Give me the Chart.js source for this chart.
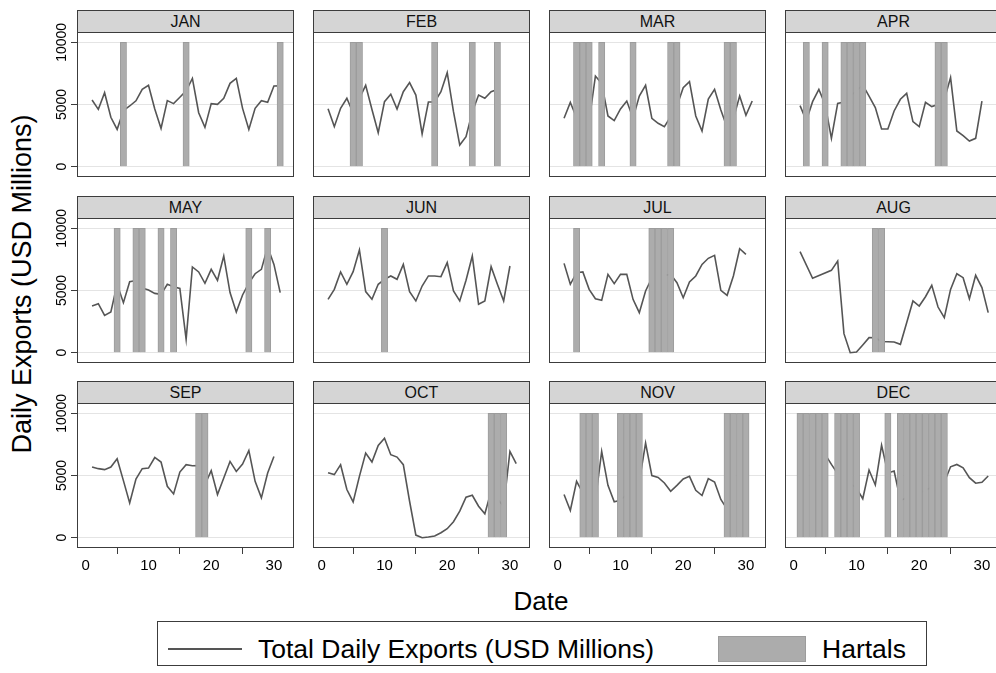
<!DOCTYPE html>
<html>
<head>
<meta charset="utf-8">
<script src="https://cdn.jsdelivr.net/npm/chart.js@4/dist/chart.umd.min.js"></script>
<style>
  html, body { margin: 0; padding: 0; overflow: hidden; background: #fff; }
  #page { position: relative; width: 1010px; height: 673px; font-family: "Liberation Sans", Arial, sans-serif; color: #000; }
  .strip { position: absolute; box-sizing: border-box; border: 1px solid #3c3c3c; background: #d5d5d5;
           font-size: 16px; text-align: center; color: #111; }
  canvas { position: absolute; }
  #ytitle { position: absolute; left: 22px; top: 284px; transform: translate(-50%, -50%) rotate(-90deg);
            white-space: nowrap; font-size: 27px; }
  #xtitle { position: absolute; left: 541px; top: 601px; transform: translate(-50%, -50%); font-size: 26px; }
  #legend { position: absolute; left: 157px; top: 621px; width: 770px; height: 45px; box-sizing: border-box;
            border: 1px solid #3c3c3c; background: #fff; font-size: 26.5px; }
  #legend .lineKey { position: absolute; left: 10px; top: 26px; width: 74px; height: 0; border-top: 2px solid #555; }
  #legend .barKey { position: absolute; left: 560px; top: 14px; width: 88px; height: 26px; box-sizing: border-box;
                    background: #acacac; border: 1px solid #9c9c9c; }
  #legend .txt { position: absolute; top: 27px; transform: translateY(-50%); white-space: nowrap; }
</style>
</head>
<body>
<div id="page">
  <div id="ytitle">Daily Exports (USD Millions)</div>
  <div id="xtitle">Date</div>
  <div id="legend">
    <div class="lineKey"></div>
    <div class="txt" style="left:100px">Total Daily Exports (USD Millions)</div>
    <div class="barKey"></div>
    <div class="txt" style="left:664px">Hartals</div>
  </div>
</div>
<script>
// Daily exports (USD millions) by day of month; null = no reading
const exportsJan = [5360, 4610, 5950, 3970, 3000, 4500, 4880, 5300, 6220, 6540, 4640, 3080, 5310, 5070, 5580, 6100, 7100, 4340, 3160, 5070, 5010, 5500, 6700, 7100, 4690, 3000, 4690, 5310, 5170, 6490, 6500];
const exportsFeb = [4660, 3220, 4690, 5500, 4300, 5500, 6540, 4600, 2730, 5230, 5820, 4640, 6030, 6760, 5760, 2630, 5200, 5200, 6030, 7560, 4420, 1740, 2410, 4400, 5760, 5500, 6030, 6200];
const exportsMar = [3890, 5170, 3940, null, 3670, 7290, 6700, 4080, 3700, 4640, 5280, 3900, 5680, 6540, 3890, 3490, 3220, 4020, 4880, 6350, 6840, 4080, 2870, 5440, 6220, 4560, 3140, 3860, 5680, 4130, 5280];
const exportsApr = [4910, 3700, 5230, 6220, 5000, 2280, 5090, 5200, null, null, 6570, 5680, 4750, 3030, 3030, 4480, 5420, 5900, 3620, 3220, 5170, 4830, 5000, 5400, 7160, 2870, 2490, 2060, 2280, 5280];
const exportsMay = [3750, 3940, 3000, 3270, 5500, 4020, 5710, 5800, 5200, 5040, 4770, 4690, 5500, 5300, 5170, 1070, 6890, 6490, 5580, 6700, 5820, 7770, 4830, 3270, 4640, 5600, 6350, 6700, 8500, 7100, 4830];
const exportsJun = [4290, 5090, 6490, 5500, 6510, 8260, 4910, 4290, 5500, 5900, 6170, 5900, 7100, 4910, 4160, 5360, 6170, 6170, 6110, 7240, 4960, 4160, 5820, 7770, 3890, 4160, 6920, 5500, 4160, 6970];
const exportsJul = [7180, 5500, 6430, 6490, 5090, 4340, 4210, 6300, 5550, 6300, 6300, 4290, 3220, 4960, 6000, null, null, 6300, 5630, 4420, 5680, 6170, 7100, 7590, 7830, 5010, 4610, 6170, 8360, 7910, null];
const exportsAug = [8120, null, 5980, null, null, 6620, 7370, 1530, 0, 50, 620, 1210, 1200, 900, 880, 860, 670, 2410, 4160, 3750, 4500, 5420, 3670, 2820, 5090, 6350, 6030, 4340, 6220, 5230, 3220];
const exportsSep = [5680, 5550, 5470, 5680, 6350, 4590, 2800, 4720, 5550, 5600, 6450, 6080, 4130, 3520, 5280, 5870, 5790, 5800, 4270, 5390, 3470, 4800, 6130, 5330, 5920, 7010, 4530, 3200, 5200, 6530];
const exportsOct = [5230, 5070, 5870, 3870, 2880, 4930, 6800, 6080, 7410, 8000, 6670, 6480, 5870, 2930, 210, 0, 50, 130, 400, 720, 1280, 2130, 3250, 3410, 2530, 1920, 3730, null, 2500, 6930, 5950];
const exportsNov = [3470, 2190, 4530, 3600, null, 2990, 6930, 4210, 2880, 3000, null, null, 4500, 7600, 4990, 4850, 4400, 3730, 4210, 4720, 4930, 3810, 3390, 4750, 4480, 3070, 2300, null, null, null];
const exportsDec = [null, null, null, null, 6700, 5890, 5150, null, null, 3980, 3130, 5440, 4240, 7430, 5200, 5360, 3000, null, null, null, null, null, null, 4460, 5700, 5890, 5620, 4830, 4380, 4460, 4960];

// Hartal (general strike) days in each month
const hartalsJan = [6, 16, 31];
const hartalsFeb = [5, 6, 18, 24, 28];
const hartalsMar = [3, 4, 5, 7, 12, 18, 19, 27, 28];
const hartalsApr = [2, 5, 8, 9, 10, 11, 23, 24];
const hartalsMay = [5, 8, 9, 12, 14, 26, 29];
const hartalsJun = [10];
const hartalsJul = [3, 15, 16, 17, 18];
const hartalsAug = [13, 14];
const hartalsSep = [18, 19];
const hartalsOct = [27, 28, 29];
const hartalsNov = [4, 5, 6, 10, 11, 12, 13, 27, 28, 29, 30];
const hartalsDec = [1, 2, 3, 4, 5, 7, 8, 9, 10, 15, 17, 18, 19, 20, 21, 22, 23, 24];

const monthNames = ['JAN', 'FEB', 'MAR', 'APR', 'MAY', 'JUN', 'JUL', 'AUG', 'SEP', 'OCT', 'NOV', 'DEC'];
const monthExports = [exportsJan, exportsFeb, exportsMar, exportsApr, exportsMay, exportsJun,
                      exportsJul, exportsAug, exportsSep, exportsOct, exportsNov, exportsDec];
const monthHartals = [hartalsJan, hartalsFeb, hartalsMar, hartalsApr, hartalsMay, hartalsJun,
                      hartalsJul, hartalsAug, hartalsSep, hartalsOct, hartalsNov, hartalsDec];

const xTicks = [0, 10, 20, 30];
const yTicks = [0, 5000, 10000];
const HARTAL_TOP = 10000;   // hartal shading spans the 0 to 10000 band

// Panel geometry
const X_MIN = -1.4, X_MAX = 33.2;
const Y_MIN = -830, Y_MAX = 10830;
const PLOT_W = 217, PLOT_H = 145, STRIP_H = 22;
const COL_LEFT = [77, 313, 549, 785];
const STRIP_TOP = [10, 196, 381];
const PAD_L = 45, PAD_B = 30, PAD_T = 26;
const FONT = '"Liberation Sans", Arial, sans-serif';

// Frame round each plot region, plus rotated y tick labels on the left column
const panelFrame = {
  id: 'panelFrame',
  afterDraw(chart, args, opts) {
    const { ctx, chartArea: a } = chart;
    ctx.save();
    ctx.strokeStyle = '#3c3c3c';
    ctx.lineWidth = 1;
    ctx.strokeRect(a.left + 0.5, a.top + 0.5, a.right - a.left - 1, a.bottom - a.top - 1);
    if (opts.yLabels) {
      const ys = chart.scales.y;
      ctx.fillStyle = '#000';
      ctx.font = '14px ' + FONT;
      ctx.textAlign = 'center';
      ctx.textBaseline = 'bottom';
      ys.ticks.forEach(t => {
        ctx.save();
        ctx.translate(a.left - 8, ys.getPixelForValue(t.value));
        ctx.rotate(-Math.PI / 2);
        ctx.fillText(String(t.value), 0, 0);
        ctx.restore();
      });
    }
    ctx.restore();
  }
};

const page = document.getElementById('page');
const dayPx = PLOT_W / (X_MAX - X_MIN);

monthNames.forEach((name, m) => {
  const col = m % 4, row = Math.floor(m / 4);
  const isLeft = col === 0, isBottom = row === 2;
  const padL = isLeft ? PAD_L : 0;
  const padB = isBottom ? PAD_B : 0;
  const padT = isLeft ? PAD_T : 0;
  const plotTop = STRIP_TOP[row] + STRIP_H;

  const strip = document.createElement('div');
  strip.className = 'strip';
  strip.textContent = name;
  strip.style.left = COL_LEFT[col] + 'px';
  strip.style.top = STRIP_TOP[row] + 'px';
  strip.style.width = PLOT_W + 'px';
  strip.style.height = (STRIP_H + 1) + 'px';
  strip.style.lineHeight = (STRIP_H - 1) + 'px';
  page.appendChild(strip);

  const canvas = document.createElement('canvas');
  canvas.width = PLOT_W + padL;
  canvas.height = PLOT_H + padB + padT;
  canvas.style.left = (COL_LEFT[col] - padL) + 'px';
  canvas.style.top = (plotTop - padT) + 'px';
  page.appendChild(canvas);

  const lineData = monthExports[m].map((v, i) => ({ x: i + 1, y: v }));
  const barData = monthHartals[m].map(d => ({ x: d, y: HARTAL_TOP }));

  new Chart(canvas, {
    type: 'line',
    data: {
      datasets: [
        { type: 'bar', label: 'Hartals', data: barData, order: 0,
          backgroundColor: '#acacac', borderColor: '#9c9c9c', borderWidth: 1,
          barThickness: dayPx },
        { type: 'line', label: 'Total Daily Exports (USD Millions)', data: lineData, order: 1,
          borderColor: '#555555', borderWidth: 1.6, pointRadius: 0, tension: 0, spanGaps: true }
      ]
    },
    options: {
      responsive: false,
      animation: false,
      events: [],
      layout: { padding: { top: padT, left: 0, right: 0, bottom: 0 } },
      plugins: { legend: { display: false }, tooltip: { enabled: false }, panelFrame: { yLabels: isLeft } },
      scales: {
        x: {
          type: 'linear', min: X_MIN, max: X_MAX, offset: false,
          afterBuildTicks: s => { s.ticks = xTicks.map(v => ({ value: v })); },
          afterFit: s => { s.height = padB; },
          border: { display: false },
          grid: { drawOnChartArea: false, drawTicks: isBottom, tickLength: 6, tickColor: '#3c3c3c' },
          ticks: { display: isBottom, autoSkip: false, maxRotation: 0, padding: 3, color: '#000',
                   font: { family: FONT, size: 15 }, callback: v => String(v) }
        },
        y: {
          type: 'linear', min: Y_MIN, max: Y_MAX,
          afterBuildTicks: s => { s.ticks = yTicks.map(v => ({ value: v })); },
          afterFit: s => { s.width = padL; },
          border: { display: false },
          grid: { color: '#e4e4e4', lineWidth: 1, drawTicks: isLeft, tickLength: 6, tickColor: '#3c3c3c' },
          ticks: { display: false }
        }
      }
    },
    plugins: [panelFrame]
  });
});
</script>
</body>
</html>
